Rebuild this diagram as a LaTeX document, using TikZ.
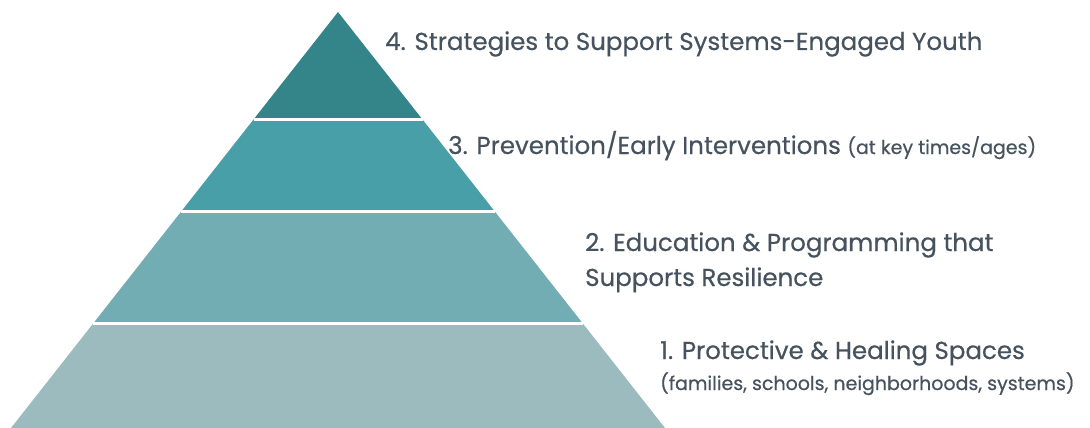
\documentclass[tikz,border=0pt]{standalone}
\usepackage{fontspec}
\setmainfont{Poppins}[FakeBold=0.5]
\usepackage{xcolor}
\usetikzlibrary{positioning,calc}
\definecolor{tierfour}{HTML}{33858A}
\definecolor{tierthree}{HTML}{489FA8}
\definecolor{tiertwo}{HTML}{72ADB3}
\definecolor{tierone}{HTML}{9CBBBF}
\definecolor{labelgray}{HTML}{46535E}
\tikzset{
  tiertext/.style={inner sep=0pt, anchor=base west, text=labelgray, font=\fontsize{24.5}{29}\selectfont},
  tiersmall/.style={tiertext, font=\fontsize{19}{23}\selectfont},
  gapline/.style={draw=white, line width=3pt}
}
\begin{document}
\begin{tikzpicture}[x=1pt, y=-1pt]
    \useasboundingbox (0,0) rectangle (1090,428);
    \coordinate (apex) at (338,12);
    \coordinate (bl) at (11,428);
    \coordinate (br) at (665,428);
    \coordinate (l3) at ($(apex)!0.2584!(bl)$);
    \coordinate (r3) at ($(apex)!0.2584!(br)$);
    \coordinate (l2) at ($(apex)!0.4796!(bl)$);
    \coordinate (r2) at ($(apex)!0.4796!(br)$);
    \coordinate (l1) at ($(apex)!0.7488!(bl)$);
    \coordinate (r1) at ($(apex)!0.7488!(br)$);

    \fill[tierfour] (apex) -- (r3) -- (l3) -- cycle;
    \fill[tierthree] (l3) -- (r3) -- (r2) -- (l2) -- cycle;
    \fill[tiertwo] (l2) -- (r2) -- (r1) -- (l1) -- cycle;
    \fill[tierone] (l1) -- (r1) -- (br) -- (bl) -- cycle;
    \draw[gapline] (l3) -- (r3);
    \draw[gapline] (l2) -- (r2);
    \draw[gapline] (l1) -- (r1);

    \node[tiertext] (t4) at (385,50) {4. Strategies to Support Systems-Engaged Youth};
    \node[tiertext] (t3) at (448,154) {3. Prevention/Early Interventions {\fontsize{19}{23}\selectfont(at key times/ages)}};
    \node[tiertext] (t2a) at (585,251) {2. Education \& Programming that};
    \node[tiertext] (t2b) at ([yshift=-35pt]t2a.base west) {Supports Resilience};
    \node[tiertext] (t1a) at (660,359) {1. Protective \& Healing Spaces};
    \node[tiersmall] (t1b) at ([yshift=-31pt]t1a.base west) {(families, schools, neighborhoods, systems)};
  \end{tikzpicture}
\end{document}
